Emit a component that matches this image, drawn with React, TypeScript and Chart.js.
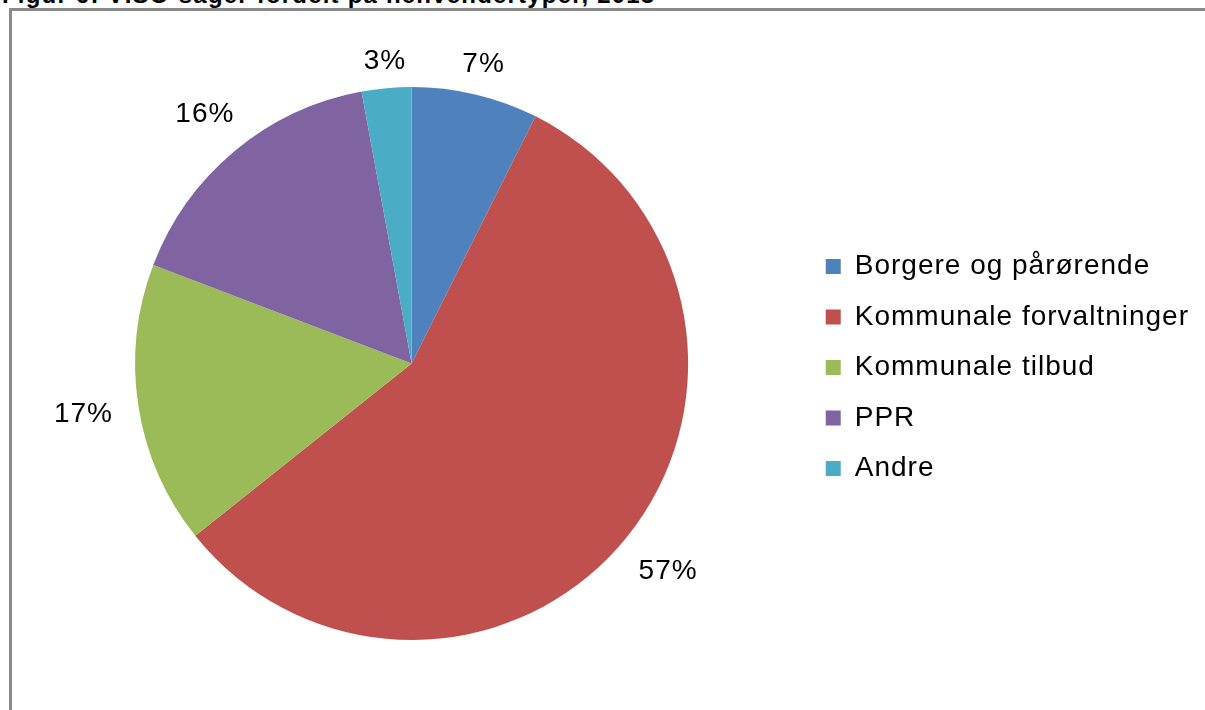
import React, { useEffect, useRef } from "react";
import { Chart, registerables } from "chart.js";

Chart.register(...registerables);

const categories = [
  "Borgere og pårørende",
  "Kommunale forvaltninger",
  "Kommunale tilbud",
  "PPR",
  "Andre",
];
const shares = [7.4, 56.9, 16.5, 16.3, 2.9];
const colors = ["#4F81BD", "#C0504D", "#9BBB59", "#8064A2", "#4BACC6"];
const titleText = "Figur 6: VISO-sager fordelt på henvendertyper, 2013";

const FONT = "'Liberation Sans', Arial, sans-serif";
const SPACING = "1px";

const spacingPlugin = {
  id: "spacing",
  beforeLayout(chart: any) {
    chart.ctx.letterSpacing = SPACING;
  },
  afterLayout(chart: any) {
    if (chart.legend) {
      chart.legend.top += 4;
      chart.legend.bottom += 4;
    }
  },
  beforeDraw(chart: any) {
    chart.ctx.letterSpacing = SPACING;
  },
};

const labelPlugin = {
  id: "outsideLabels",
  afterDatasetsDraw(chart: any) {
    const ctx = chart.ctx;
    const meta = chart.getDatasetMeta(0);
    const data = chart.data.datasets[0].data as number[];
    const total = data.reduce((a, b) => a + b, 0);
    ctx.save();
    ctx.letterSpacing = SPACING;
    ctx.font = `28px ${FONT}`;
    ctx.fillStyle = "#000";
    ctx.textAlign = "center";
    ctx.textBaseline = "middle";
    meta.data.forEach((arc: any, i: number) => {
      const p = arc.getProps(["x", "y", "startAngle", "endAngle", "outerRadius"], true);
      const mid = (p.startAngle + p.endAngle) / 2;
      const text = Math.round((data[i] / total) * 100) + "%";
      const w = ctx.measureText(text).width;
      const h = 20;
      const c = Math.cos(mid);
      const s = Math.sin(mid);
      const d = p.outerRadius + 14 + Math.abs(c) * (w / 2 + 12) + Math.abs(s) * h / 2;
      ctx.fillText(text, p.x + c * d + 1, p.y + s * d);
    });
    ctx.restore();
  },
};

export default function App() {
  const ref = useRef<HTMLCanvasElement | null>(null);
  useEffect(() => {
    if (!ref.current) return;
    const chart = new Chart(ref.current, {
      type: "pie",
      data: {
        labels: categories,
        datasets: [
          {
            data: shares,
            backgroundColor: colors,
            borderWidth: 0,
          },
        ],
      },
      options: {
        animation: false,
        responsive: false,
        devicePixelRatio: 1,
        layout: { padding: { left: 8, right: 6, top: 76, bottom: 70 } },
        plugins: {
          tooltip: { enabled: false },
          title: { display: false },
          legend: {
            position: "right",
            labels: {
              boxWidth: 15,
              boxHeight: 15,
              padding: 22.5,
              color: "#000",
              font: { family: FONT, size: 28 },
            },
          },
        },
      },
      plugins: [spacingPlugin, labelPlugin],
    });
    return () => chart.destroy();
  }, []);

  return (
    <div
      style={{
        position: "fixed",
        left: 0,
        top: 0,
        width: 1205,
        height: 710,
        overflow: "hidden",
        background: "#fff",
      }}
    >
      <div
        style={{
          position: "absolute",
          left: 2,
          top: -17,
          fontFamily: FONT,
          fontWeight: "bold",
          fontSize: 24,
          lineHeight: "24px",
          letterSpacing: "1.2px",
          whiteSpace: "nowrap",
          color: "#000",
        }}
      >
        {titleText}
      </div>
      <div
        style={{
          position: "absolute",
          left: 9,
          top: 8,
          width: 2000,
          height: 2000,
          borderTop: "3px solid #8a8a8a",
          borderLeft: "3px solid #8a8a8a",
        }}
      />
      <canvas
        ref={ref}
        width={1193}
        height={699}
        style={{ position: "absolute", left: 12, top: 11, width: 1193, height: 699 }}
      />
    </div>
  );
}
